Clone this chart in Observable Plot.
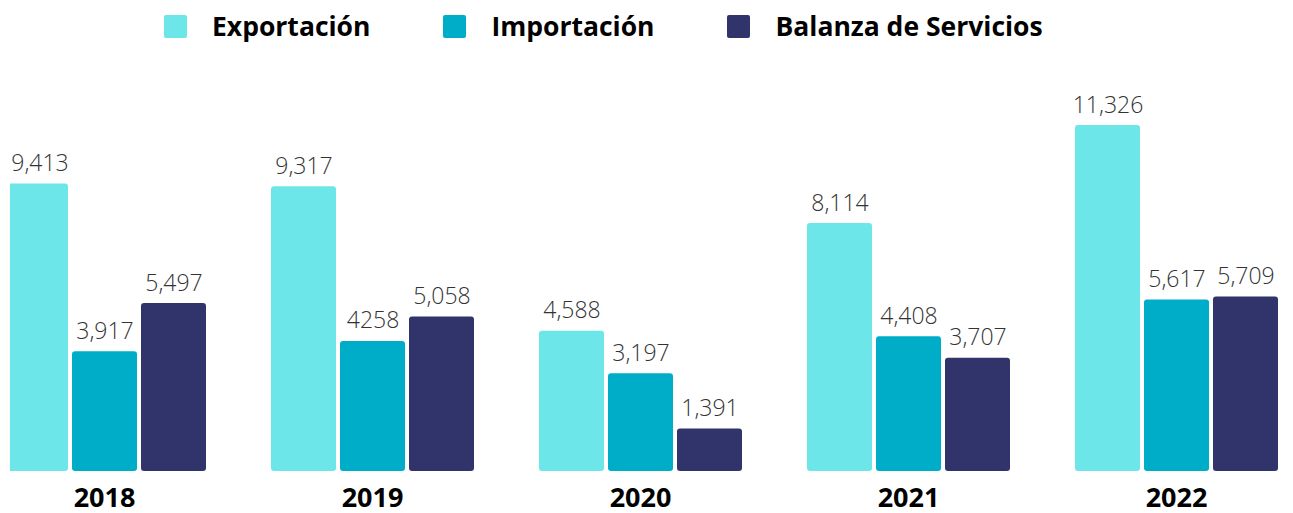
<!DOCTYPE html>
<html>
<head>
<meta charset="utf-8">
<script src="https://cdn.jsdelivr.net/npm/d3@7"></script>
<script src="https://cdn.jsdelivr.net/npm/@observablehq/plot@0.6"></script>
<style>
  html, body { margin: 0; padding: 0; background: #fff; font-family: "Open Sans", sans-serif; }
  #legend { height: 60px; box-sizing: border-box; padding-top: 15px; padding-left: 164px; display: flex; align-items: flex-start; }
  #legend .item { display: flex; align-items: center; margin-right: 73px; height: 23px; }
  #legend .sw { width: 23px; height: 23px; border-radius: 2px; margin-right: 25px; }
  #legend .lb { font-size: 26.5px; font-weight: 700; color: #000; line-height: 23px; }
  #chart svg { display: block; clip-path: inset(0 0 0 10px); }
</style>
</head>
<body>
<div id="legend"></div>
<div id="chart"></div>
<script>
const years = ["2018", "2019", "2020", "2021", "2022"];
const series = ["Exportación", "Importación", "Balanza de Servicios"];
const colors = ["#6ce6e8", "#00adc8", "#31346b"];
const exportacion = [9413, 9317, 4588, 8114, 11326];
const importacion = [3917, 4258, 3197, 4408, 5617];
const balanza = [5497, 5058, 1391, 3707, 5709];
const exportLabels = ["9,413", "9,317", "4,588", "8,114", "11,326"];
const importLabels = ["3,917", "4258", "3,197", "4,408", "5,617"];
const balanzaLabels = ["5,497", "5,058", "1,391", "3,707", "5,709"];

const valuesBySeries = [exportacion, importacion, balanza];
const labelsBySeries = [exportLabels, importLabels, balanzaLabels];
const data = [];
years.forEach((y, i) => {
  series.forEach((s, j) => {
    data.push({year: y, series: s, value: valuesBySeries[j][i], label: labelsBySeries[j][i]});
  });
});

// legend
const legend = document.getElementById("legend");
series.forEach((s, j) => {
  const it = document.createElement("div");
  it.className = "item";
  const sw = document.createElement("div");
  sw.className = "sw";
  sw.style.background = colors[j];
  const lb = document.createElement("div");
  lb.className = "lb";
  lb.textContent = s;
  it.appendChild(sw); it.appendChild(lb);
  legend.appendChild(it);
});

const first = d => d.year === years[0] && d.series === series[0];

const chart = Plot.plot({
  width: 1293,
  height: 453,
  marginLeft: 2,
  marginRight: 15,
  marginTop: 65,
  marginBottom: 42,
  style: {fontFamily: "Open Sans, sans-serif", background: "#fff"},
  fx: {domain: years, paddingInner: 64 / 268, paddingOuter: 0, axis: null},
  x: {domain: series, paddingInner: 4 / 69, paddingOuter: 0, axis: null},
  y: {domain: [0, d3.max(exportacion)], axis: null},
  color: {domain: series, range: colors},
  marks: [
    Plot.barY(data, {fx: "year", x: "series", y: "value", fill: "series", rx: 3}),
    Plot.text(data.filter(d => !first(d)), {fx: "year", x: "series", y: "value", text: "label",
      lineAnchor: "bottom", dy: -13, fontSize: 23, fontWeight: 300, fill: "#333"}),
    Plot.text(data.filter(first), {fx: "year", x: "series", y: "value", text: "label",
      lineAnchor: "bottom", dy: -13, dx: 4, fontSize: 23, fontWeight: 300, fill: "#333"}),
    Plot.text(years, {fx: d => d, text: d => d, frameAnchor: "bottom", dy: 35,
      fontSize: 27, fontWeight: "bold", fill: "#000"})
  ]
});
document.getElementById("chart").appendChild(chart);
</script>
</body>
</html>
